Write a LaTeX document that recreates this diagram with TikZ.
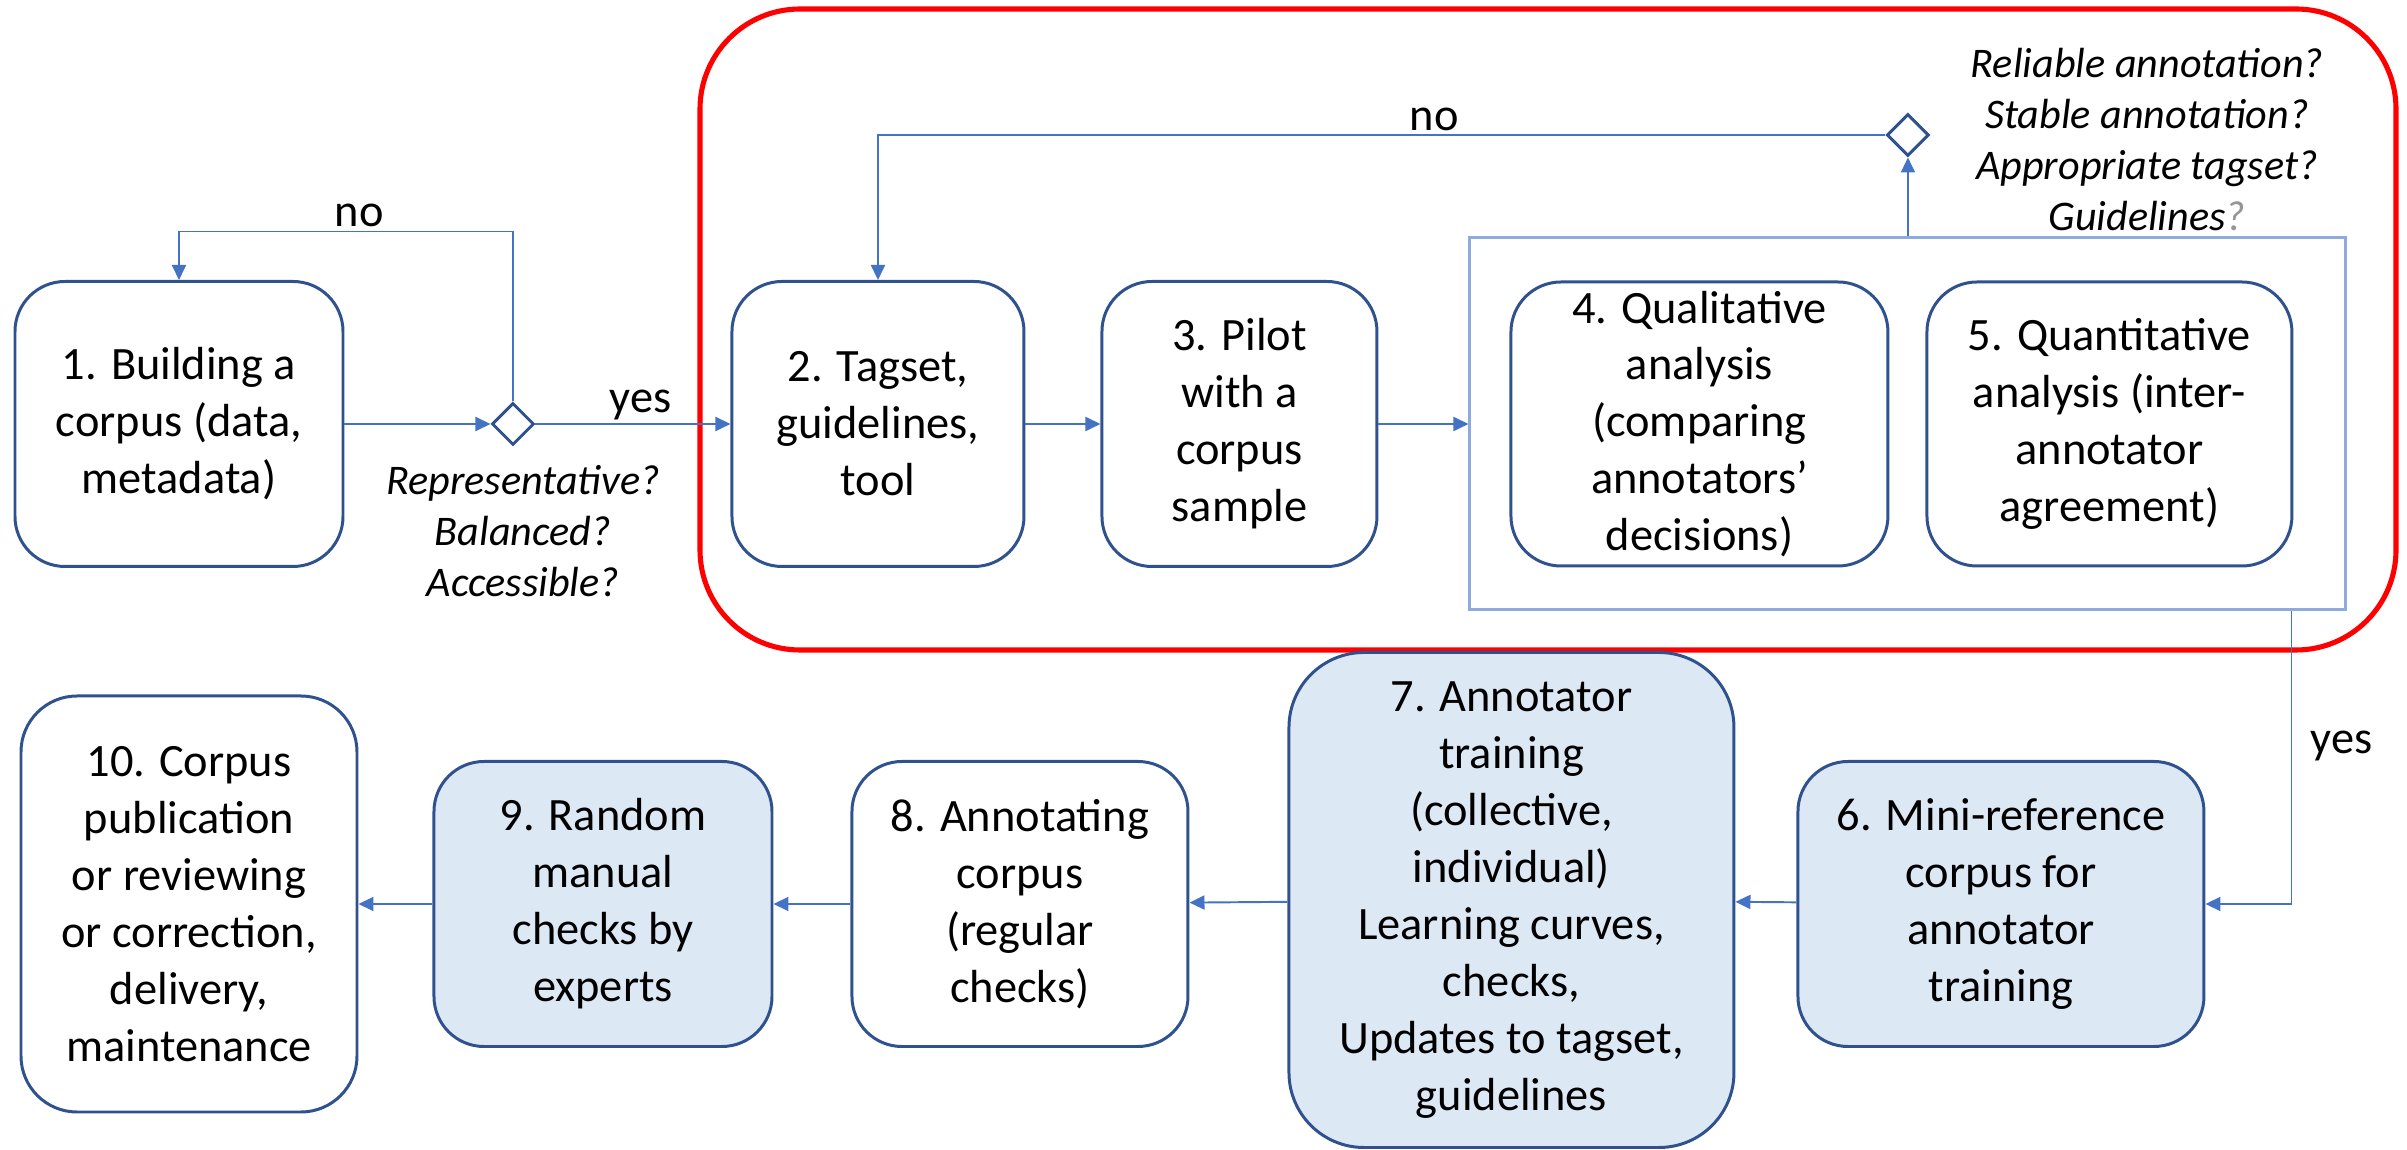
\documentclass[tikz,border=0pt]{standalone}
\usepackage{fontspec}
\setmainfont{Carlito}
\usepackage{tikz}
\usetikzlibrary{arrows.meta,positioning,calc,shapes.geometric}
\definecolor{edge}{RGB}{47,82,143}
\definecolor{wire}{RGB}{68,114,196}
\definecolor{frame}{RGB}{143,170,220}
\definecolor{paleblue}{RGB}{221,232,245}
\definecolor{softgray}{RGB}{150,150,150}
\tikzset{
  stage/.style={draw=edge,line width=0.85pt,rounded corners=5mm,fill=white,align=center,inner sep=0pt,
                font=\fontsize{13.2}{16.2}\selectfont,minimum height=2.85cm},
  stagefill/.style={stage,fill=paleblue},
  decision/.style={diamond,draw=edge,line width=0.85pt,fill=white,inner sep=0pt,
                   minimum width=4.2mm,minimum height=4.2mm},
  groupbox/.style={draw=frame,line width=0.85pt,inner sep=0pt},
  loopbox/.style={draw=red,line width=1.45pt,rounded corners=10mm},
  link/.style={draw=wire,line width=0.55pt,-{Triangle[length=1.5mm,width=1.4mm]}},
  question/.style={align=center,font=\fontsize{12}{14.5}\selectfont\itshape},
  lbl/.style={font=\fontsize{13.2}{16.2}\selectfont,inner sep=1pt},
}
\begin{document}
\begin{tikzpicture}
  \useasboundingbox (0,0) rectangle (24.07,-11.50);
  \draw[loopbox] (7.00,-0.09) rectangle (23.96,-6.50);
  \node[stage,minimum width=3.28cm] (s1) at (1.79,-4.24) {1. Building a\\corpus (data,\\metadata)};
  \node[decision,right=1.46cm of s1] (d1) {};
  \node[stage,minimum width=2.92cm,right=1.95cm of d1] (s2) {2. Tagset,\\guidelines,\\tool};
  \node[stage,minimum width=2.75cm,right=0.75cm of s2] (s3) {3. Pilot\\with a\\corpus\\sample};
  \node[groupbox,minimum width=8.76cm,minimum height=3.72cm,right=0.90cm of s3] (grp) {};
  \node[stage,minimum width=3.77cm,minimum height=2.84cm,right=0.41cm of grp.west] (s4)
    {4. Qualitative\\analysis\\(comparing\\annotators’\\decisions)};
  \node[stage,minimum width=3.65cm,minimum height=2.84cm,right=0.36cm of s4] (s5)
    {5. Quantitative\\analysis (inter-\\annotator\\agreement)};
  \node[decision,above=0.79cm of grp] (d2) {};
  \node[question] (q1) at (5.23,-5.31) {Representative?\\Balanced?\\Accessible?};
  \node[question] (q2) at (21.47,-1.395)
    {Reliable annotation?\\Stable annotation?\\Appropriate tagset?\\Guidelines\textcolor{softgray}{?}};

  \node[stage,minimum width=3.36cm,minimum height=4.16cm,rounded corners=5.6mm] (s10) at (1.89,-9.04)
    {10. Corpus\\publication\\or reviewing\\or correction,\\delivery,\\maintenance};
  \node[stagefill,minimum width=3.38cm,right=0.74cm of s10] (s9) {9. Random\\manual\\checks by\\experts};
  \node[stage,minimum width=3.36cm,right=0.77cm of s9] (s8) {8. Annotating\\corpus\\(regular\\checks)};
  \node[stagefill,minimum width=4.45cm,minimum height=4.95cm,rounded corners=7.5mm,right=0.98cm of s8,yshift=0.4mm] (s7)
    {7. Annotator\\training\\(collective,\\individual)\\Learning curves,\\checks,\\Updates to tagset,\\guidelines};
  \node[stagefill,minimum width=4.06cm,right=0.61cm of s7,yshift=-0.4mm] (s6)
    {6. Mini-reference\\corpus for\\annotator\\training};

  \draw[link] (s1) -- (d1);
  \draw[link] (d1) -- node[lbl,above,pos=0.54] {yes} (s2);
  \draw[link] (d1.north) -- ++(0,1.70) -| node[lbl,above,pos=0.23] {no} (s1.north);
  \draw[link] (s2) -- (s3);
  \draw[link] (s3) -- (grp);
  \draw[link] (grp) -- (d2);
  \draw[link] (d2.west) -| node[lbl,above,pos=0.224] {no} (s2.north);
  \coordinate (out) at ($(grp.south east)+(-0.56,0)$);
  \draw[link] (out) |- node[lbl,right=1.5mm,pos=0.23] {yes} (s6.east);
  \draw[link] (s6) -- (s7);
  \draw[link] (s7) -- (s8);
  \draw[link] (s8) -- (s9);
  \draw[link] (s9) -- (s10);
\end{tikzpicture}
\end{document}
